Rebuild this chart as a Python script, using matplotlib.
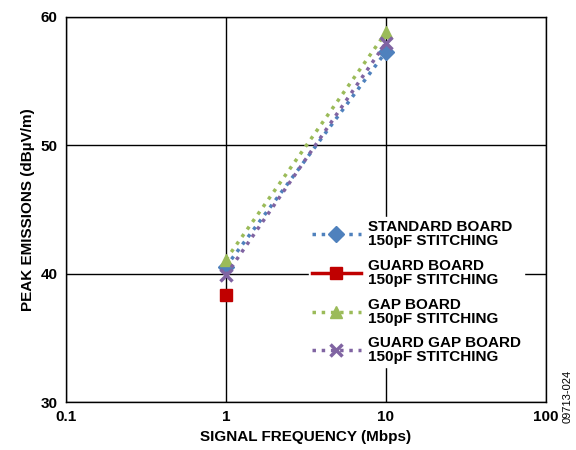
import numpy as np
import matplotlib.pyplot as plt

plt.rcParams['font.family'] = ['Liberation Sans', 'DejaVu Sans']
plt.rcParams['font.weight'] = 'bold'

# data
freq = [1, 10]
standard = [40.55, 57.3]
guard_freq = [1]
guard = [38.3]
gap = [41.1, 58.8]
guard_gap = [39.9, 58.0]

labels = ['STANDARD BOARD\n150pF STITCHING', 'GUARD BOARD\n150pF STITCHING',
          'GAP BOARD\n150pF STITCHING', 'GUARD GAP BOARD\n150pF STITCHING']

fig = plt.figure(figsize=(5.76, 4.5), dpi=100)
ax = fig.add_axes([66 / 576, 48 / 450, 480 / 576, 385 / 450])

ax.plot(freq, standard, color='#4f81bd', ls=':', lw=2.5, marker='D', ms=8, label=labels[0])
ax.plot(guard_freq, guard, color='#c00000', ls='-', lw=2.5, marker='s', ms=9, label=labels[1])
ax.plot(freq, gap, color='#9bbb59', ls=':', lw=2.5, marker='^', ms=9, label=labels[2])
ax.plot(freq, guard_gap, color='#8064a2', ls=':', lw=2.5, marker='x', ms=8, mew=2.5, label=labels[3])

ax.set_xscale('log')
ax.set_xlim(0.1, 100)
ax.set_ylim(30, 60)
ax.set_xticks([0.1, 1, 10, 100])
ax.set_xticklabels(['0.1', '1', '10', '100'])
ax.set_yticks([30, 40, 50, 60])
ax.minorticks_off()
ax.grid(True, color='black', lw=1)
ax.tick_params(labelsize=11, length=0, pad=6)
for s in ax.spines.values():
    s.set_linewidth(1)

ax.set_xlabel('SIGNAL FREQUENCY (Mbps)', fontsize=11, fontweight='bold')
ax.set_ylabel('PEAK EMISSIONS (dBµV/m)', fontsize=11, fontweight='bold')

leg = ax.legend(loc='center left', bbox_to_anchor=(0.49, 0.285), frameon=True,
                fontsize=11, handlelength=3.2, labelspacing=0.7, borderpad=0.2,
                handletextpad=0.45, fancybox=False, framealpha=1, edgecolor='white')
for t in leg.get_texts():
    t.set_fontweight('bold')
    t.set_linespacing(1.0)

fig.text(0.995, 0.06, '09713-024', rotation=90, fontsize=8, fontweight='normal',
         ha='right', va='bottom')

fig.savefig('out.png', dpi=100)
